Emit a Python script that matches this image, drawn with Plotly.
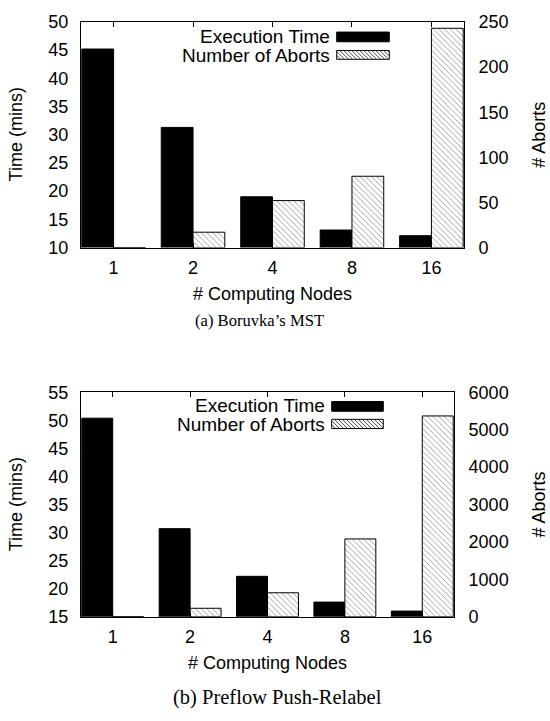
import plotly.graph_objects as go

# ---------------- data ----------------
nodes = ["1", "2", "4", "8", "16"]
mst_time = [45.2, 31.3, 19.0, 13.1, 12.1]
mst_aborts = [0, 17, 52, 79, 243]
pr_time = [50.4, 30.7, 22.2, 17.6, 16.0]
pr_aborts = [0, 225, 640, 2080, 5370]

W, H = 550, 721
SANS = "Liberation Sans, Arial, Helvetica, sans-serif"
SERIF = "Liberation Serif, Times New Roman, serif"
FS = 18
LFS = 19

def px(x):
    return x / W

def py(y):
    return 1 - y / H

idx = list(range(len(nodes)))

fig = go.Figure()

def add_pair(times, aborts, xa, ya, ya2):
    fig.add_trace(go.Bar(
        x=idx, y=times, xaxis=xa, yaxis=ya, width=0.4, offset=-0.4,
        marker=dict(color="black", line=dict(color="black", width=1)),
        showlegend=False, name="Execution Time", hoverinfo="skip"))
    fig.add_trace(go.Bar(
        x=idx, y=aborts, xaxis=xa, yaxis=ya2, width=0.4, offset=0.0,
        marker=dict(color="white", line=dict(color="black", width=1),
                    pattern=dict(shape="\\", fgcolor="black", bgcolor="white",
                                 size=4, solidity=0.18, fillmode="overlay")),
        showlegend=False, name="Number of Aborts", hoverinfo="skip"))

add_pair(mst_time, mst_aborts, "x", "y", "y2")
add_pair(pr_time, pr_aborts, "x2", "y3", "y4")

axis_common = dict(showgrid=False, zeroline=False, showline=True,
                   linecolor="black", linewidth=1,
                   tickfont=dict(family=SANS, size=FS, color="black"))

# plot boxes in pixels
top_box = (81, 464, 12.3, 244.3)
bot_box = (81, 454, 393.3, 624.0)

def xdom(b):
    return [px(b[0]), px(b[1])]

def ydom(b):
    return [py(b[3]), py(b[2])]

xcommon = dict(axis_common, range=[-0.41, 4.41], tickvals=idx, ticktext=nodes,
               ticks="inside", ticklen=5, tickcolor="black", mirror="ticks",
               ticklabelstandoff=4)

fig.update_layout(
    width=W, height=H,
    margin=dict(l=0, r=0, t=0, b=0),
    paper_bgcolor="white", plot_bgcolor="white",
    barmode="overlay",
    xaxis=dict(xcommon, domain=xdom(top_box), anchor="y"),
    yaxis=dict(axis_common, domain=ydom(top_box), range=[10, 50], dtick=5,
               ticks="", anchor="x", ticklabelstandoff=8),
    yaxis2=dict(axis_common, overlaying="y", side="right", range=[0, 250],
                dtick=50, ticks="", anchor="x", ticklabelstandoff=10),
    xaxis2=dict(xcommon, domain=xdom(bot_box), anchor="y3"),
    yaxis3=dict(axis_common, domain=ydom(bot_box), range=[15, 55], dtick=5,
                ticks="", anchor="x2", ticklabelstandoff=8),
    yaxis4=dict(axis_common, overlaying="y3", side="right", range=[0, 6000],
                dtick=1000, ticks="", anchor="x2", ticklabelstandoff=10),
)

annotations = []
shapes = []

def text(x, y, s, family=SANS, size=FS, xanchor="center", angle=0):
    annotations.append(dict(x=px(x), y=py(y), xref="paper", yref="paper",
                            text=s, showarrow=False, xanchor=xanchor,
                            yanchor="middle", textangle=angle, borderpad=0,
                            font=dict(family=family, size=size, color="black")))

def hatch_box(x0, x1, y0, y1, step=4.0):
    shapes.append(dict(type="rect", xref="paper", yref="paper",
                       x0=px(x0), x1=px(x1), y0=py(y1), y1=py(y0),
                       line=dict(color="black", width=1), fillcolor="white"))
    h = y1 - y0
    segs = []
    k = x0 - h
    while k < x1:
        ax, ay, bx, by = k, y0, k + h, y1
        if ax < x0:
            ay = ay + (x0 - ax)
            ax = x0
        if bx > x1:
            by = by - (bx - x1)
            bx = x1
        if bx > ax:
            segs.append("M%.5f,%.5f L%.5f,%.5f" % (px(ax), py(ay), px(bx), py(by)))
        k += step
    shapes.append(dict(type="path", xref="paper", yref="paper",
                       path=" ".join(segs), line=dict(color="black", width=0.7)))

def solid_box(x0, x1, y0, y1):
    shapes.append(dict(type="rect", xref="paper", yref="paper",
                       x0=px(x0), x1=px(x1), y0=py(y1), y1=py(y0),
                       line=dict(color="black", width=1), fillcolor="black"))

# ---- top chart texts ----
text(272.5, 291.7, "# Computing Nodes")
text(259, 319, "(a) Boruvka\u2019s MST", family=SERIF, size=16.6)
text(15.7, 128.3, "Time (mins)", angle=-90)
text(539, 128.3, "# Aborts", angle=-90)
text(331, 27.2, "Execution Time", xanchor="right", size=LFS)
text(331, 46.7, "Number of Aborts", xanchor="right", size=LFS)
solid_box(336.7, 389.3, 22.7, 32.7)
hatch_box(336.7, 389.3, 41.7, 50.7)

# ---- bottom chart texts ----
text(267.5, 671.7, "# Computing Nodes")
text(277, 706.7, "(b) Preflow Push-Relabel", family=SERIF, size=20.5)
text(15.7, 508.7, "Time (mins)", angle=-90)
text(539, 508.7, "# Aborts", angle=-90)
text(326, 407.2, "Execution Time", xanchor="right", size=LFS)
text(326, 426.3, "Number of Aborts", xanchor="right", size=LFS)
solid_box(331.7, 383.3, 402.7, 412.7)
hatch_box(331.7, 383.3, 421.0, 430.5)

fig.update_layout(annotations=annotations, shapes=shapes)

fig.write_html("out.html",
               config={"displayModeBar": False, "staticPlot": True},
               post_script="document.body.style.margin='0';"
                           "document.body.style.overflow='hidden';")
